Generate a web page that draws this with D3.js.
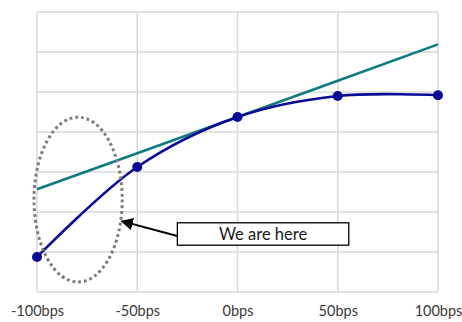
<!DOCTYPE html>
<html>
<head>
<meta charset="utf-8">
<script src="https://cdn.jsdelivr.net/npm/d3@7"></script>
<style>
  html, body { margin: 0; padding: 0; background: #fff; }
  svg { display: block; }
</style>
</head>
<body>
<svg id="chart" width="462" height="322"></svg>
<script>
// Rate shock scenarios (bps) and values
const categories = [-100, -50, 0, 50, 100];
const tickLabels = ["-100bps", "-50bps", "0bps", "50bps", "100bps"];
const curveValues = [0.875, 3.125, 4.375, 4.9, 4.92];
const tangentValues = [2.57, 3.47, 4.375, 5.28, 6.19];
const yGrid = [0, 1, 2, 3, 4, 5, 6, 7];

// Annotation: current position highlighted with a dotted ellipse
const highlight = { cx: -79.5, cy: 2.31, rx: 22, ry: 2.06 };
const calloutText = "We are here";

const svg = d3.select("#chart");
const margin = { left: 37, right: 24, top: 12, bottom: 30 };
const W = 462, H = 322;

const x = d3.scaleLinear().domain([-100, 100]).range([margin.left, W - margin.right]);
const y = d3.scaleLinear().domain([0, 7]).range([H - margin.bottom, margin.top]);

// Grid
const grid = svg.append("g");
grid.selectAll("line.h").data(yGrid).join("line")
  .attr("x1", x(-100)).attr("x2", x(100))
  .attr("y1", d => y(d)).attr("y2", d => y(d))
  .attr("stroke", "#d9d9d9").attr("stroke-width", 1.5);
grid.selectAll("line.v").data(categories).join("line")
  .attr("x1", d => x(d)).attr("x2", d => x(d))
  .attr("y1", y(0)).attr("y2", y(7))
  .attr("stroke", "#d9d9d9").attr("stroke-width", 1.5);

// X axis labels
const xAxis = d3.axisBottom(x).tickValues(categories)
  .tickFormat((d, i) => tickLabels[i]).tickSize(0).tickPadding(14);
const ax = svg.append("g").attr("transform", `translate(0,${y(0)})`).call(xAxis);
ax.select(".domain").remove();
ax.selectAll("text")
  .attr("font-family", "Lato, 'Open Sans', sans-serif")
  .attr("font-size", 14.5).attr("fill", "#3a3a3a");

// Tangent line
const lineLin = d3.line().x((d, i) => x(categories[i])).y(d => y(d));
svg.append("path").datum(tangentValues)
  .attr("d", lineLin).attr("fill", "none")
  .attr("stroke", "#0f7b80").attr("stroke-width", 2.6);

// Smoothed curve
const lineSmooth = d3.line().x((d, i) => x(categories[i])).y(d => y(d))
  .curve(d3.curveCatmullRom.alpha(0.5));
svg.append("path").datum(curveValues)
  .attr("d", lineSmooth).attr("fill", "none")
  .attr("stroke", "#0a0a96").attr("stroke-width", 2.6);

svg.selectAll("circle.pt").data(curveValues).join("circle")
  .attr("cx", (d, i) => x(categories[i])).attr("cy", d => y(d))
  .attr("r", 5).attr("fill", "#0a0a96");

// Dotted ellipse
const ecx = x(highlight.cx), ecy = y(highlight.cy);
const erx = x(highlight.cx + highlight.rx) - ecx;
const ery = ecy - y(highlight.cy + highlight.ry);
svg.append("ellipse")
  .attr("cx", ecx).attr("cy", ecy).attr("rx", erx).attr("ry", ery)
  .attr("fill", "none").attr("stroke", "#7a7a7a")
  .attr("stroke-width", 3).attr("stroke-dasharray", "2.8,3");

// Callout box and arrow
const defs = svg.append("defs");
defs.append("marker").attr("id", "arrow")
  .attr("viewBox", "0 0 10 10").attr("refX", 9).attr("refY", 5)
  .attr("markerWidth", 6.5).attr("markerHeight", 6.5).attr("orient", "auto")
  .append("path").attr("d", "M0,0 L10,5 L0,10 Z").attr("fill", "#000");

const box = { x0: -30, x1: 55.5, yTop: 1.73, yBot: 1.17 };
const bx0 = x(box.x0), bx1 = x(box.x1), by0 = y(box.yTop), by1 = y(box.yBot);

svg.append("line")
  .attr("x1", bx0).attr("y1", (by0 + by1) / 2 + 2)
  .attr("x2", ecx + erx - 0.5).attr("y2", y(1.77))
  .attr("stroke", "#000").attr("stroke-width", 1.9)
  .attr("marker-end", "url(#arrow)");

svg.append("rect")
  .attr("x", bx0).attr("y", by0).attr("width", bx1 - bx0).attr("height", by1 - by0)
  .attr("fill", "#fff").attr("stroke", "#000").attr("stroke-width", 1.3);
svg.append("text")
  .attr("x", (bx0 + bx1) / 2).attr("y", (by0 + by1) / 2 + 5.5)
  .attr("text-anchor", "middle")
  .attr("font-family", "Lato, 'Open Sans', sans-serif")
  .attr("font-size", 16.5).attr("fill", "#1a1a1a")
  .text(calloutText);
</script>
</body>
</html>
